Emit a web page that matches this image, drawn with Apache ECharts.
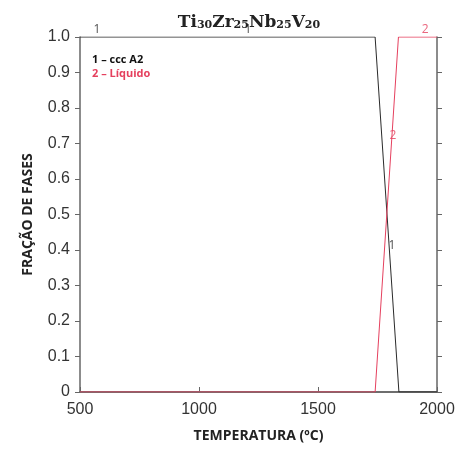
<!DOCTYPE html>
<html><head><meta charset="utf-8">
<script src="https://cdn.jsdelivr.net/npm/echarts@6/dist/echarts.min.js"></script>
<style>html,body{margin:0;padding:0;background:#fff}#c{width:458px;height:454px}</style>
</head><body><div id="c"></div>
<script>
// Phase 1: ccc A2 (black)
const temps1 = [500, 1740, 1840, 2000];
const frac1 = [1, 1, 0, 0];
// Phase 2: Líquido (red)
const temps2 = [500, 1740, 1838, 2000];
const frac2 = [0, 0, 1, 1];
// curve number labels
const lbl1T = [571, 1206, 1811];
const lbl1F = [1.0, 1.0, 0.393];
const lbl2T = [1815, 1950];
const lbl2F = [0.702, 1.0];
const xTicks = [500, 1000, 1500, 2000];
const yTicks = [0, 0.1, 0.2, 0.3, 0.4, 0.5, 0.6, 0.7, 0.8, 0.9, 1.0];

const zip = (a, b) => a.map((v, i) => [v, b[i]]);
const chart = echarts.init(document.getElementById('c'));
const axisCol = '#666';
const lblFont = {color: '#333', fontSize: 16, fontFamily: 'Liberation Sans, Arial, sans-serif'};
chart.setOption({
  animation: false,
  backgroundColor: '#fff',
  title: {
    text: '{b|Ti}{s|30}{b|Zr}{s|25}{b|Nb}{s|25}{b|V}{s|20}',
    left: 244, top: 4, textAlign: 'center',
    textStyle: {
      rich: {
        b: {fontFamily: 'DejaVu Serif, serif', fontWeight: 'bold', fontSize: 17, color: '#222', lineHeight: 22, verticalAlign: 'bottom'},
        s: {fontFamily: 'DejaVu Serif, serif', fontSize: 11, color: '#222', lineHeight: 22, verticalAlign: 'bottom', padding: [2, 0, 0, 0]}
      }
    }
  },
  grid: {left: 80, right: 21, top: 37, bottom: 62},
  xAxis: [{
    type: 'value', min: 500, max: 2000, interval: 500,
    name: 'TEMPERATURA (ºC)', nameLocation: 'middle', nameGap: 37,
    nameTextStyle: {fontSize: 14, fontWeight: 'bold', color: '#222', fontFamily: 'Open Sans, sans-serif'},
    axisLine: {lineStyle: {color: axisCol, width: 1.5}},
    axisTick: {inside: true, length: 5, lineStyle: {color: axisCol}},
    axisLabel: Object.assign({margin: 10, formatter: v => xTicks.includes(v) ? String(v) : ''}, lblFont),
    splitLine: {show: false}
  }, {
    type: 'value', position: 'top', min: 500, max: 2000, interval: 500,
    axisLine: {lineStyle: {color: axisCol, width: 1.5}},
    axisTick: {length: 5, lineStyle: {color: axisCol}},
    axisLabel: {show: false}, splitLine: {show: false}
  }],
  yAxis: [{
    type: 'value', min: 0, max: 1, interval: 0.1,
    name: 'FRAÇÃO DE FASES', nameLocation: 'middle', nameGap: 45,
    nameTextStyle: {fontSize: 14, fontWeight: 'bold', color: '#222', fontFamily: 'Open Sans, sans-serif'},
    axisLine: {lineStyle: {color: axisCol, width: 1.5}},
    axisTick: {length: 5, lineStyle: {color: axisCol}},
    axisLabel: Object.assign({margin: 10, formatter: v => Math.abs(v) < 1e-9 ? '0' : v.toFixed(1)}, lblFont),
    splitLine: {show: false}
  }, {
    type: 'value', position: 'right', min: 0, max: 1, interval: 0.1,
    axisLine: {lineStyle: {color: axisCol, width: 1.5}},
    axisTick: {length: 5, lineStyle: {color: axisCol}},
    axisLabel: {show: false}, splitLine: {show: false}
  }],
  series: [{
    type: 'line', data: zip(temps1, frac1), symbol: 'none',
    lineStyle: {color: '#2a2a2a', width: 1}, z: 3
  }, {
    type: 'line', data: zip(temps2, frac2), symbol: 'none',
    lineStyle: {color: '#e5405e', width: 1}, z: 4
  }, {
    type: 'scatter', data: zip(lbl1T, lbl1F), symbolSize: 0,
    label: {show: true, formatter: '1', position: 'top', distance: 1, color: '#222', fontSize: 12, fontFamily: 'Open Sans, sans-serif'}
  }, {
    type: 'scatter', data: zip(lbl2T, lbl2F), symbolSize: 0,
    label: {show: true, formatter: '2', position: 'top', distance: 1, color: '#e5405e', fontSize: 12, fontFamily: 'Open Sans, sans-serif'}
  }],
  graphic: [{
    type: 'text', left: 92, top: 54,
    style: {text: '1 – ccc A2', fill: '#111', font: 'bold 11px "Open Sans", sans-serif'}
  }, {
    type: 'text', left: 92, top: 68,
    style: {text: '2 – Líquido', fill: '#e5405e', font: 'bold 11px "Open Sans", sans-serif'}
  }]
});
</script></body></html>
